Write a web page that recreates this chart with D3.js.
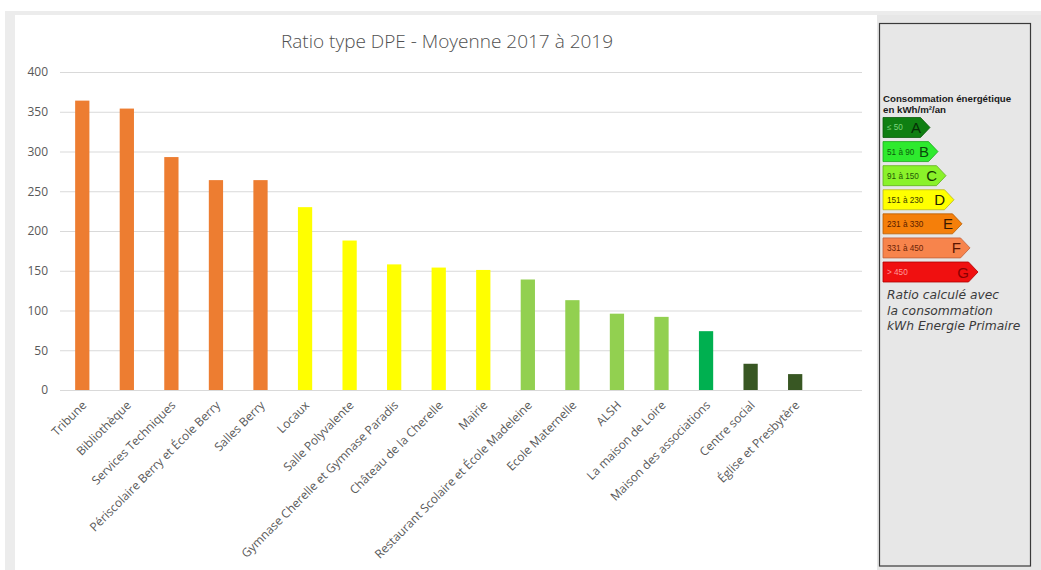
<!DOCTYPE html>
<html>
<head>
<meta charset="utf-8">
<script src="https://cdn.jsdelivr.net/npm/d3@7/dist/d3.min.js"></script>
<style>
  html, body { margin: 0; padding: 0; background: #ffffff; }
  svg { display: block; }
</style>
</head>
<body>
<svg id="chart" width="1041" height="570"></svg>
<script>
// Buildings and their average primary-energy ratio (kWh/m²/an), 2017–2019
const categories = [
  "Tribune", "Bibliothèque", "Services Techniques", "Périscolaire Berry et École Berry",
  "Salles Berry", "Locaux", "Salle Polyvalente", "Gymnase Cherelle et Gymnase Paradis",
  "Château de la Cherelle", "Mairie", "Restaurant Scolaire et École Madeleine",
  "Ecole Maternelle", "ALSH", "La maison de Loire", "Maison des associations",
  "Centre social", "Église et Presbytère"
];
const ratios = [364, 354, 293, 264, 264, 230, 188, 158, 154, 151, 139, 113, 96, 92, 74, 33, 20];
const yTicks = [0, 50, 100, 150, 200, 250, 300, 350, 400];

// DPE energy classes shown in the side legend
const dpeLetters = ["A", "B", "C", "D", "E", "F", "G"];
const dpeRanges = ["≤ 50", "51 à 90", "91 à 150", "151 à 230", "231 à 330", "331 à 450", "> 450"];

const svg = d3.select("#chart");

// Page frame
svg.append("rect").attr("x", 5).attr("y", 11).attr("width", 1036).attr("height", 559).attr("fill", "#ececec");
svg.append("rect").attr("x", 15).attr("y", 15).attr("width", 862).attr("height", 555).attr("fill", "#ffffff");
svg.append("rect").attr("x", 877).attr("y", 15).attr("width", 164).attr("height", 555).attr("fill", "#e7e7e7");
svg.append("rect").attr("x", 879.5).attr("y", 23.5).attr("width", 151).attr("height", 542.5)
  .attr("fill", "none").attr("stroke", "#3a3a3a").attr("stroke-width", 1.2);

// Scales
const plotLeft = 60, plotRight = 862, plotTop = 72, plotBottom = 390;
const step = (plotRight - plotLeft) / (categories.length + 1);
const x = d3.scaleBand().domain(categories)
  .range([plotLeft, plotLeft + step * categories.length])
  .paddingInner(0.68).paddingOuter(0.34);
const y = d3.scaleLinear().domain([0, 400]).range([plotBottom, plotTop]);

// Bar colour follows the DPE class of the value
const barColor = d3.scaleThreshold()
  .domain([51, 91, 151, 231])
  .range(["#385723", "#00b050", "#92d050", "#ffff00", "#ed7d31"]);

// Title
svg.append("text")
  .attr("x", 447).attr("y", 48)
  .attr("text-anchor", "middle")
  .attr("font-family", "'Open Sans', sans-serif")
  .attr("font-weight", 300)
  .attr("font-size", 19)
  .attr("fill", "#505050")
  .text("Ratio type DPE - Moyenne 2017 à 2019");

// Gridlines + y labels
const yAxis = d3.axisLeft(y).tickValues(yTicks).tickSize(-(plotRight - plotLeft)).tickPadding(12);
const gy = svg.append("g").attr("transform", `translate(${plotLeft},0)`).call(yAxis);
gy.select(".domain").remove();
gy.selectAll(".tick line").attr("stroke", "#d9d9d9").attr("stroke-width", 1.2);
gy.selectAll(".tick text")
  .attr("font-family", "'Open Sans', sans-serif")
  .attr("font-size", 12)
  .attr("fill", "#595959");

// Bars
svg.append("g").selectAll("rect")
  .data(categories.map((c, i) => ({ c, v: ratios[i] })))
  .join("rect")
  .attr("x", d => x(d.c))
  .attr("y", d => y(d.v))
  .attr("width", x.bandwidth())
  .attr("height", d => y(0) - y(d.v))
  .attr("fill", d => barColor(d.v));

// Rotated category labels
const xAxis = d3.axisBottom(x).tickSize(0).tickPadding(0);
const gx = svg.append("g").attr("transform", `translate(0,${plotBottom})`).call(xAxis);
gx.select(".domain").remove();
gx.selectAll(".tick text")
  .attr("font-family", "'Open Sans', sans-serif")
  .attr("font-size", 12)
  .attr("fill", "#595959")
  .attr("text-anchor", "end")
  .attr("dy", null)
  .attr("transform", "translate(5,16) rotate(-45)");

// DPE legend
const lg = svg.append("g");
lg.append("text").attr("x", 883).attr("y", 102)
  .attr("font-family", "'Liberation Sans', Arial, sans-serif").attr("font-weight", "bold")
  .attr("font-size", 9.7).attr("fill", "#1a1a1a").text("Consommation énergétique");
lg.append("text").attr("x", 883).attr("y", 113)
  .attr("font-family", "'Liberation Sans', Arial, sans-serif").attr("font-weight", "bold")
  .attr("font-size", 9.7).attr("fill", "#1a1a1a").text("en kWh/m²/an");

const dpeFill = ["#0f7f12", "#2eea2e", "#8af22a", "#ffff00", "#f57f0a", "#f7844c", "#f01010"];
const dpeStroke = ["#0b5c0d", "#1ca81c", "#5fb01a", "#b8b81a", "#b85d00", "#c0603a", "#b00000"];
const dpeSmall = ["#7ed67e", "#0c600c", "#245a05", "#3a3a00", "#5a2000", "#6a1f05", "#ff9a9a"];
const dpeBig = ["#062e06", "#0a4a0a", "#143a00", "#222200", "#3a1a00", "#5a1400", "#8a0000"];

const arrowY = d3.scaleBand().domain(dpeLetters).range([117.5, 282]).paddingInner(0.17);
const arrowLen = d3.scaleLinear().domain([0, 6]).range([47, 95]);
const arrowLeft = 883, tipDepth = 9.5;

dpeLetters.forEach((L, i) => {
  const top = arrowY(L), h = arrowY.bandwidth(), len = arrowLen(i);
  const p = d3.path();
  p.moveTo(arrowLeft, top);
  p.lineTo(arrowLeft + len - tipDepth, top);
  p.lineTo(arrowLeft + len, top + h / 2);
  p.lineTo(arrowLeft + len - tipDepth, top + h);
  p.lineTo(arrowLeft, top + h);
  p.closePath();
  lg.append("path").attr("d", p.toString())
    .attr("fill", dpeFill[i]).attr("stroke", dpeStroke[i]).attr("stroke-width", 0.8);
  lg.append("text").attr("x", arrowLeft + 4).attr("y", top + h / 2 + 3)
    .attr("font-family", "'Liberation Sans', Arial, sans-serif")
    .attr("font-size", 8.2).attr("fill", dpeSmall[i]).text(dpeRanges[i]);
  lg.append("text").attr("x", arrowLeft + len - 9).attr("y", top + h / 2 + 5.5)
    .attr("text-anchor", "end")
    .attr("font-family", "'Liberation Sans', Arial, sans-serif")
    .attr("font-size", 15).attr("fill", dpeBig[i]).text(L);
});

// Note on the calculation basis
const note = ["Ratio calculé avec", "la consommation", "kWh Energie Primaire"];
lg.selectAll("text.note").data(note).join("text")
  .attr("class", "note")
  .attr("x", 887)
  .attr("y", (d, i) => 299 + i * 15.5)
  .attr("font-family", "'DejaVu Sans', sans-serif")
  .attr("font-style", "italic")
  .attr("font-weight", 300)
  .attr("font-size", 12.3)
  .attr("fill", "#3a3a3a")
  .text(d => d);
</script>
</body>
</html>
